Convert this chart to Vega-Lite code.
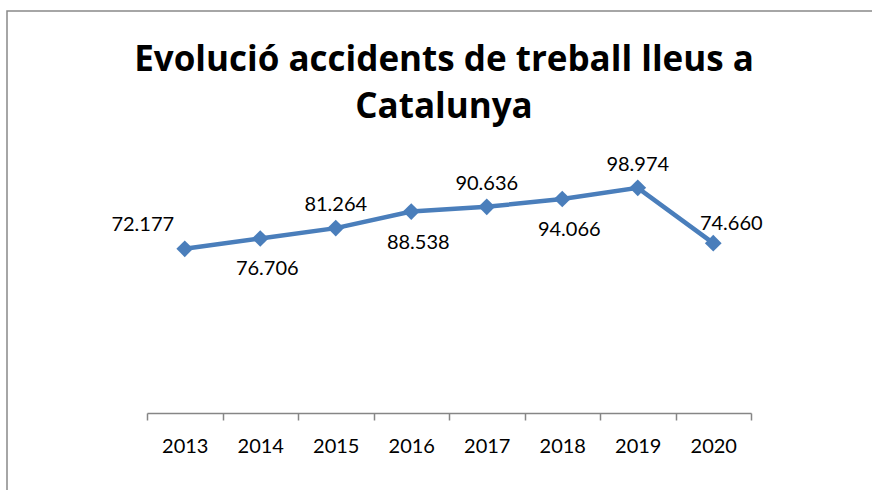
{
  "$schema": "https://vega.github.io/schema/vega-lite/v6.json",
  "autosize": {"type": "none"},
  "padding": {"left": 7, "top": 11, "right": 0, "bottom": 0},
  "width": 868,
  "height": 484,
  "background": "white",
  "config": {
    "locale": {"number": {"decimal": ",", "thousands": ".", "grouping": [3], "currency": ["", " €"]}},
    "view": {"stroke": "#898989", "strokeWidth": 1.5},
    "font": "Lato"
  },
  "title": {
    "text": ["Evolució accidents de treball lleus a", "Catalunya"],
    "font": "Open Sans",
    "fontSize": 35,
    "fontWeight": "bold",
    "color": "#000000",
    "lineHeight": 47,
    "offset": -114,
    "dx": 3,
    "anchor": "middle"
  },
  "data": {
    "values": [
      {"year": "2013", "value": 72177},
      {"year": "2014", "value": 76706},
      {"year": "2015", "value": 81264},
      {"year": "2016", "value": 88538},
      {"year": "2017", "value": 90636},
      {"year": "2018", "value": 94066},
      {"year": "2019", "value": 98974},
      {"year": "2020", "value": 74660}
    ]
  },
  "encoding": {
    "x": {
      "field": "year",
      "type": "ordinal",
      "scale": {"type": "band", "range": [140, 744], "paddingInner": 0, "paddingOuter": 0},
      "axis": {
        "title": null,
        "orient": "bottom",
        "offset": -82,
        "tickBand": "extent",
        "tickSize": 7,
        "tickColor": "#868686",
        "tickWidth": 1.5,
        "domainColor": "#868686",
        "domainWidth": 1.5,
        "labelFont": "Lato",
        "labelFontSize": 20,
        "labelColor": "#000000",
        "labelPadding": 16,
        "labelAngle": 0,
        "grid": false
      }
    },
    "y": {
      "field": "value",
      "type": "quantitative",
      "scale": {"domain": [0, 120000], "range": [402, 129]},
      "axis": null
    }
  },
  "layer": [
    {"mark": {"type": "line", "color": "#4A7EBB", "strokeWidth": 4.5}},
    {"mark": {"type": "point", "shape": "diamond", "filled": true, "size": 280, "color": "#4A7EBB", "opacity": 1}},
    {
      "transform": [{"filter": {"field": "year", "oneOf": ["2015", "2017", "2019"]}}],
      "mark": {"type": "text", "dy": -23, "fontSize": 20, "color": "#000000", "baseline": "middle"},
      "encoding": {"text": {"field": "value", "type": "quantitative", "format": ",.0f"}}
    },
    {
      "transform": [{"filter": {"field": "year", "equal": "2013"}}],
      "mark": {"type": "text", "dx": -42, "dy": -24, "fontSize": 20, "color": "#000000", "baseline": "middle"},
      "encoding": {"text": {"field": "value", "type": "quantitative", "format": ",.0f"}}
    },
    {
      "transform": [{"filter": {"field": "year", "equal": "2020"}}],
      "mark": {"type": "text", "dx": 18, "dy": -19, "fontSize": 20, "color": "#000000", "baseline": "middle"},
      "encoding": {"text": {"field": "value", "type": "quantitative", "format": ",.0f"}}
    },
    {
      "transform": [{"filter": {"field": "year", "oneOf": ["2014", "2016", "2018"]}}],
      "mark": {"type": "text", "dx": 7, "dy": 31, "fontSize": 20, "color": "#000000", "baseline": "middle"},
      "encoding": {"text": {"field": "value", "type": "quantitative", "format": ",.0f"}}
    }
  ]
}
